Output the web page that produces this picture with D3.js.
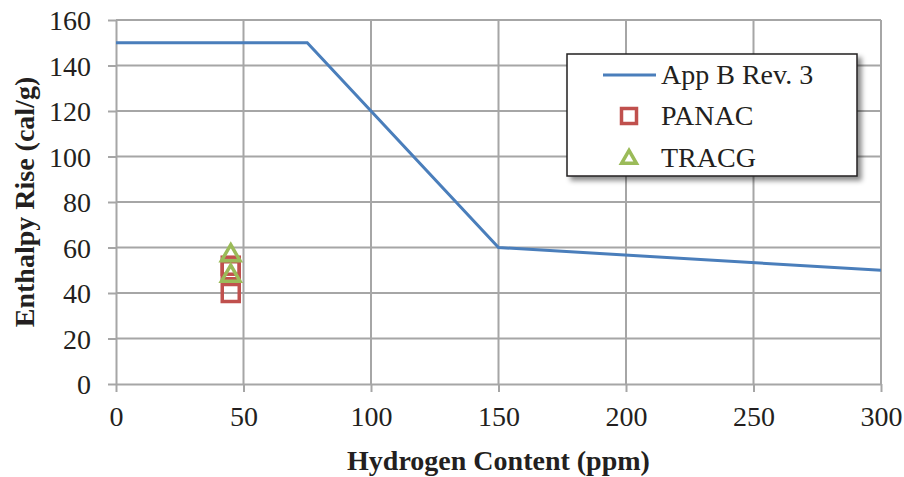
<!DOCTYPE html>
<html>
<head>
<meta charset="utf-8">
<script src="https://cdn.jsdelivr.net/npm/d3@7"></script>
<style>
  html, body { margin: 0; padding: 0; background: #fff; }
  svg { display: block; font-family: "Liberation Serif", "Times New Roman", serif; }
</style>
</head>
<body>
<svg id="chart" width="904" height="477"></svg>
<script>
// Enthalpy limit curve (App B Rev. 3)
const limitHydrogen = [0, 75, 150, 300];
const limitEnthalpy = [150, 150, 60, 50];

// Calculated points
const panacHydrogen = [45, 45, 45];
const panacEnthalpy = [40, 50, 52];
const tracgHydrogen = [45, 45];
const tracgEnthalpy = [56.5, 47.5];

const xTicks = [0, 50, 100, 150, 200, 250, 300];
const yTicks = [0, 20, 40, 60, 80, 100, 120, 140, 160];

const seriesNames = ["App B Rev. 3", "PANAC", "TRACG"];
const colors = { line: "#4a7ebb", panac: "#c0504d", tracg: "#9bbb59", grid: "#a6a6a6", text: "#231f20" };

const svg = d3.select("#chart");
const margin = { left: 116, right: 23, top: 20, bottom: 93 };
const W = 904, H = 477;

const x = d3.scaleLinear().domain([0, 300]).range([margin.left, W - margin.right]);
const y = d3.scaleLinear().domain([0, 160]).range([H - margin.bottom, margin.top]);

// Grid lines
const grid = svg.append("g");
grid.selectAll("line.gx").data(xTicks.filter(d => d > 0)).join("line")
  .attr("x1", d => x(d)).attr("x2", d => x(d))
  .attr("y1", y(160)).attr("y2", y(0))
  .attr("stroke", colors.grid).attr("stroke-width", 2);
grid.selectAll("line.gy").data(yTicks.filter(d => d > 0)).join("line")
  .attr("x1", x(0)).attr("x2", x(300))
  .attr("y1", d => y(d)).attr("y2", d => y(d))
  .attr("stroke", colors.grid).attr("stroke-width", 2);

// Axes
const xAxis = svg.append("g").attr("transform", `translate(0,${y(0)})`)
  .call(d3.axisBottom(x).tickValues(xTicks).tickSize(8).tickSizeOuter(0).tickPadding(14));
const yAxis = svg.append("g").attr("transform", `translate(${x(0)},0)`)
  .call(d3.axisLeft(y).tickValues(yTicks).tickSize(8).tickSizeOuter(0).tickPadding(17));
[xAxis, yAxis].forEach(a => {
  a.select(".domain").attr("stroke", colors.grid).attr("stroke-width", 2);
  a.selectAll(".tick line").attr("stroke", colors.grid).attr("stroke-width", 2);
  a.selectAll(".tick text").attr("fill", colors.text)
    .style("font-family", "'Liberation Serif', serif").style("font-size", "28px");
});
xAxis.selectAll(".tick text").attr("dy", "0.71em");
yAxis.selectAll(".tick text").attr("dy", "0.34em");

// Limit line
const line = d3.line().x(d => x(d[0])).y(d => y(d[1]));
svg.append("path")
  .datum(limitHydrogen.map((h, i) => [h, limitEnthalpy[i]]))
  .attr("d", line).attr("fill", "none")
  .attr("stroke", colors.line).attr("stroke-width", 3);

// Markers
const sq = 17;
svg.append("g").selectAll("rect")
  .data(panacHydrogen.map((h, i) => [h, panacEnthalpy[i]]))
  .join("rect")
  .attr("x", d => x(d[0]) - sq / 2).attr("y", d => y(d[1]) - sq / 2)
  .attr("width", sq).attr("height", sq)
  .attr("fill", "none").attr("stroke", colors.panac).attr("stroke-width", 3.5);

const tri = d3.symbol().type(d3.symbolTriangle).size(150);
svg.append("g").selectAll("path")
  .data(tracgHydrogen.map((h, i) => [h, tracgEnthalpy[i]]))
  .join("path")
  .attr("d", tri)
  .attr("transform", d => `translate(${x(d[0])},${y(d[1])})`)
  .attr("fill", "none").attr("stroke", colors.tracg).attr("stroke-width", 3.5)
  .attr("stroke-linejoin", "miter");

// Axis titles
svg.append("text")
  .attr("x", (x(0) + x(300)) / 2).attr("y", 470)
  .attr("text-anchor", "middle").attr("fill", colors.text)
  .style("font-size", "28px").style("font-weight", "bold")
  .text("Hydrogen Content (ppm)");
svg.append("text")
  .attr("transform", `translate(34,${(y(0) + y(160)) / 2}) rotate(-90)`)
  .attr("text-anchor", "middle").attr("fill", colors.text)
  .style("font-size", "28px").style("font-weight", "bold")
  .text("Enthalpy Rise (cal/g)");

// Legend with drop shadow
const defs = svg.append("defs");
const f = defs.append("filter").attr("id", "shadow").attr("x", "-10%").attr("y", "-10%")
  .attr("width", "130%").attr("height", "130%");
f.append("feDropShadow").attr("dx", 4).attr("dy", 4).attr("stdDeviation", 2.5)
  .attr("flood-color", "#000").attr("flood-opacity", 0.45);

const lg = svg.append("g").attr("transform", "translate(567,54)");
lg.append("rect").attr("width", 290).attr("height", 122)
  .attr("fill", "#fff").attr("stroke", "#231f20").attr("stroke-width", 1.5)
  .attr("filter", "url(#shadow)");

const rows = [21, 62, 104];
lg.append("line").attr("x1", 36).attr("x2", 89).attr("y1", rows[0]).attr("y2", rows[0])
  .attr("stroke", colors.line).attr("stroke-width", 3);
lg.append("rect").attr("x", 62 - 7.5).attr("y", rows[1] - 7.5).attr("width", 15).attr("height", 15)
  .attr("fill", "none").attr("stroke", colors.panac).attr("stroke-width", 3.5);
lg.append("path").attr("d", d3.symbol().type(d3.symbolTriangle).size(95))
  .attr("transform", `translate(62,${rows[2] + 1})`)
  .attr("fill", "none").attr("stroke", colors.tracg).attr("stroke-width", 3.5);

lg.selectAll("text.lab").data(seriesNames).join("text")
  .attr("x", 94).attr("y", (d, i) => rows[i]).attr("dy", "0.33em")
  .attr("fill", colors.text).style("font-size", "28px")
  .text(d => d);
</script>
</body>
</html>
